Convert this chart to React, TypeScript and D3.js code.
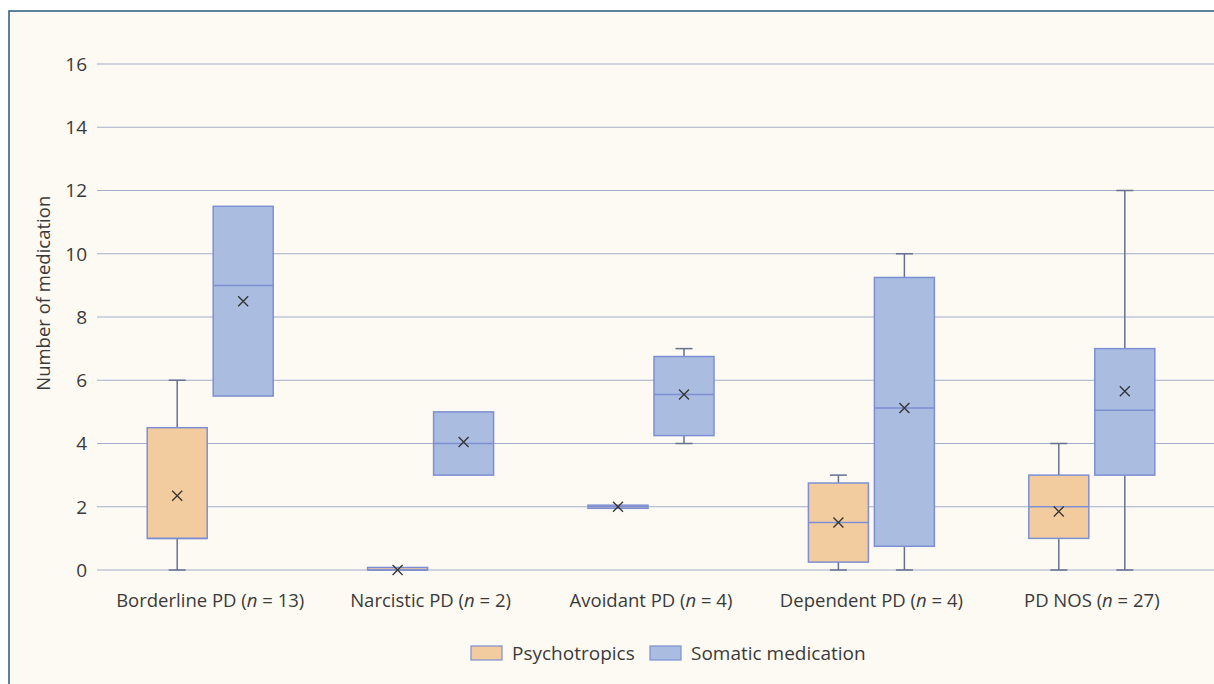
import React from 'react';
import * as d3 from 'd3';

const categories = ['Borderline PD', 'Narcistic PD', 'Avoidant PD', 'Dependent PD', 'PD NOS'];
const groupSizes = [13, 2, 4, 4, 27];
const seriesNames = ['Psychotropics', 'Somatic medication'];
const yTicks = [0, 2, 4, 6, 8, 10, 12, 14, 16];

// [min, q1, median, q3, max, mean] per category
const psychotropics = [
  [0, 1, 1, 4.5, 6, 2.35],
  [0, 0, 0, 0.08, 0, 0],
  [2, 1.95, 2, 2.05, 2, 2],
  [0, 0.25, 1.5, 2.75, 3, 1.5],
  [0, 1, 2, 3, 4, 1.85],
];
const somatic = [
  [5.5, 5.5, 9, 11.5, 11.5, 8.5],
  [3, 3, 4, 5, 5, 4.05],
  [4, 4.25, 5.55, 6.75, 7, 5.55],
  [0, 0.75, 5.12, 9.25, 10, 5.12],
  [0, 3, 5.05, 7, 12, 5.65],
];

const fills = ['#f2cc9f', '#aabde1'];
const boxStroke = '#7d8fd2';
const whiskerColor = '#66718f';
const gridColor = '#a3aecb';
const textColor = '#3a3a3a';
const font = '"Open Sans", "Noto Sans", sans-serif';

const width = 1214;
const height = 684;

export default function App() {
  const x = d3.scaleBand<string>().domain(categories).range([100, 1202]).padding(0);
  const y = d3.scaleLinear().domain([0, 16]).range([570, 64]);
  const boxW = 60;
  const gap = 6;
  const capW = 17;
  const allSeries = [psychotropics, somatic];

  return (
    <svg width={width} height={height} style={{ position: 'absolute', left: 0, top: 0 }} fontFamily={font}>
      <rect x={0} y={0} width={width} height={height} fill="#ffffff" />
      <rect x={9} y={11} width={width + 20} height={height + 20} fill="#fdfaf3" stroke="#24597e" strokeWidth={1.5} />

      {yTicks.map((t) => (
        <g key={t}>
          <line x1={97} x2={width} y1={y(t)} y2={y(t)} stroke={gridColor} strokeWidth={1.2} />
          <text x={87} y={y(t)} dy="0.36em" textAnchor="end" fontSize={19} fill={textColor}>{t}</text>
        </g>
      ))}

      <text transform={`translate(50,${y(8.75)}) rotate(-90)`} textAnchor="middle" fontSize={18.5} fill={textColor}>
        Number of medication
      </text>

      {categories.map((c, i) => {
        const cx = x(c)! + x.bandwidth() / 2;
        return (
          <g key={c}>
            {allSeries.map((s, si) => {
              const [mn, q1, med, q3, mx, mean] = s[i];
              const bx = si === 0 ? cx - gap / 2 - boxW : cx + gap / 2;
              const mid = bx + boxW / 2;
              return (
                <g key={si}>
                  {mx > q3 && (
                    <g stroke={whiskerColor} strokeWidth={1.5}>
                      <line x1={mid} x2={mid} y1={y(mx)} y2={y(q3)} />
                      <line x1={mid - capW / 2} x2={mid + capW / 2} y1={y(mx)} y2={y(mx)} />
                    </g>
                  )}
                  {mn < q1 && (
                    <g stroke={whiskerColor} strokeWidth={1.5}>
                      <line x1={mid} x2={mid} y1={y(q1)} y2={y(mn)} />
                      <line x1={mid - capW / 2} x2={mid + capW / 2} y1={y(mn)} y2={y(mn)} />
                    </g>
                  )}
                  <rect x={bx} y={y(q3)} width={boxW} height={y(q1) - y(q3)} fill={fills[si]} stroke={boxStroke} strokeWidth={1.5} />
                  <line x1={bx} x2={bx + boxW} y1={y(med)} y2={y(med)} stroke={boxStroke} strokeWidth={1.5} />
                  <path
                    d={`M${mid - 5},${y(mean) - 5}L${mid + 5},${y(mean) + 5}M${mid - 5},${y(mean) + 5}L${mid + 5},${y(mean) - 5}`}
                    stroke="#333333"
                    strokeWidth={1.3}
                  />
                </g>
              );
            })}
            <text x={cx} y={607} textAnchor="middle" fontSize={18.5} fill={textColor}>
              {c} (<tspan fontStyle="italic">n</tspan> = {groupSizes[i]})
            </text>
          </g>
        );
      })}

      <g fontSize={19} fill={textColor}>
        {seriesNames.map((n, i) => {
          const lx = i === 0 ? 471 : 650;
          return (
            <g key={n}>
              <rect x={lx} y={646} width={31} height={14} fill={fills[i]} stroke={boxStroke} strokeWidth={1.2} />
              <text x={lx + 41} y={660}>{n}</text>
            </g>
          );
        })}
      </g>
    </svg>
  );
}
